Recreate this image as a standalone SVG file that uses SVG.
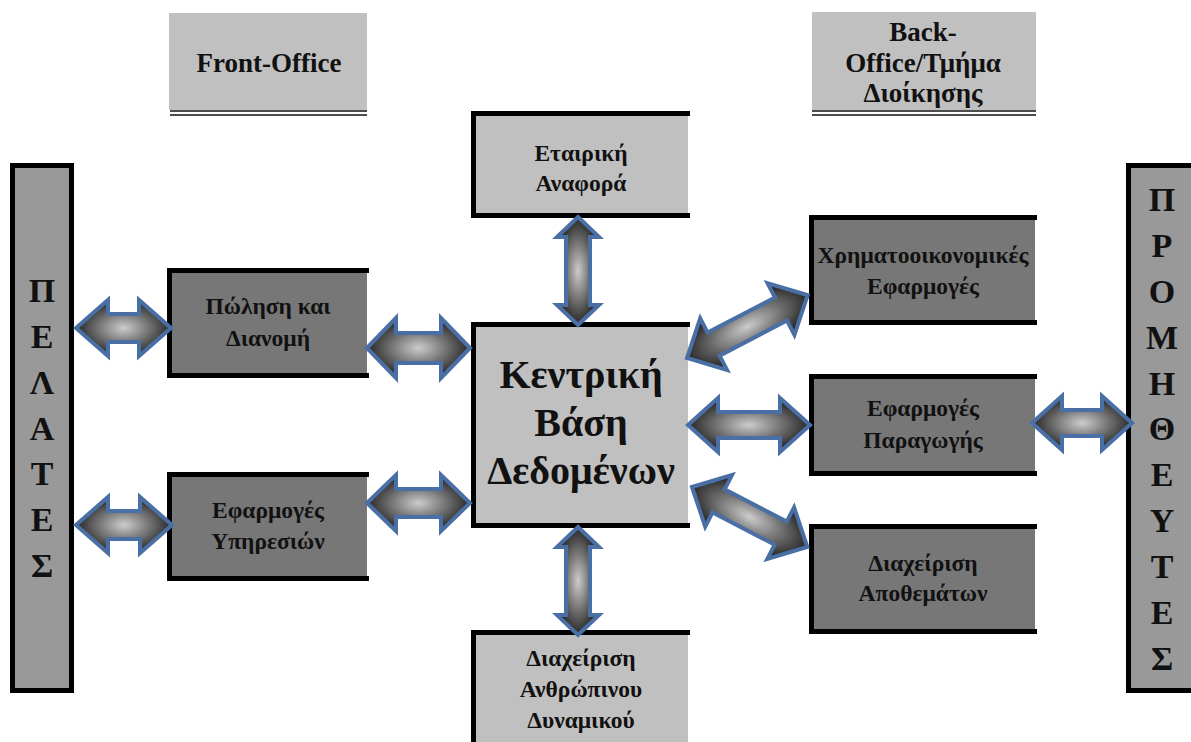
<svg xmlns="http://www.w3.org/2000/svg" width="1191" height="742" viewBox="0 0 1191 742">
<defs>
<radialGradient id="ag" cx="0.5" cy="0.5" r="0.5">
<stop offset="0" stop-color="#cccccc"/>
<stop offset="1" stop-color="#262626"/>
</radialGradient>
<style>
.t{font-family:'Liberation Serif',Tinos,'Times New Roman','DejaVu Serif',serif;font-weight:bold;fill:#111;text-anchor:middle}
.bx{font-size:23.5px}
.hd{font-size:27px}
.col{font-size:34px}
.big{font-size:40px}
.dark{fill:#777777}
.light{fill:#c0c0c0}
.colfill{fill:#999999}
.bd{fill:none;stroke:#000;stroke-width:5}
.dl{stroke:#111;stroke-width:1.5}
.arr{fill:url(#ag);stroke:#4a6fa5;stroke-width:4;stroke-linejoin:miter}
</style>
</defs>
<rect width="1191" height="742" fill="#fff"/>

<g id="front-office">
<rect class="light" x="169" y="13" width="198" height="97"/>
<line class="dl" x1="170" y1="111" x2="367" y2="111"/>
<line class="dl" x1="170" y1="115" x2="367" y2="115"/>
<text class="t hd" x="269" y="72">Front-Office</text>
</g>

<g id="back-office">
<rect class="light" x="812" y="12" width="224" height="98"/>
<line class="dl" x1="812" y1="111" x2="1036" y2="111"/>
<line class="dl" x1="812" y1="115" x2="1036" y2="115"/>
<text class="t hd" x="923" y="41">Back-</text>
<text class="t hd" x="923" y="72">Office/Τμήμα</text>
<text class="t hd" x="923" y="102">Διοίκησης</text>
</g>

<g id="pelates">
<rect class="colfill" x="12.5" y="165.5" width="59" height="525"/>
<rect class="bd" x="12.5" y="165.5" width="59" height="525"/>
<text class="t col" x="42" y="302">Π</text>
<text class="t col" x="42" y="348">Ε</text>
<text class="t col" x="42" y="394">Λ</text>
<text class="t col" x="42" y="440">Α</text>
<text class="t col" x="42" y="485">Τ</text>
<text class="t col" x="42" y="531">Ε</text>
<text class="t col" x="42" y="577">Σ</text>
</g>

<g id="promitheftes">
<rect class="colfill" x="1128.5" y="165.5" width="70" height="525"/>
<rect class="bd" x="1128.5" y="165.5" width="70" height="525"/>
<text class="t col" x="1162" y="211">Π</text>
<text class="t col" x="1162" y="257">Ρ</text>
<text class="t col" x="1162" y="303">Ο</text>
<text class="t col" x="1162" y="349">Μ</text>
<text class="t col" x="1162" y="395">Η</text>
<text class="t col" x="1162" y="440">Θ</text>
<text class="t col" x="1162" y="486">Ε</text>
<text class="t col" x="1162" y="532">Υ</text>
<text class="t col" x="1162" y="578">Τ</text>
<text class="t col" x="1162" y="624">Ε</text>
<text class="t col" x="1162" y="670">Σ</text>
</g>

<g id="polisi">
<rect class="dark" x="169.5" y="270.5" width="197.5" height="105"/>
<path class="bd" d="M369 270.5H169.5V375.5H369"/>
<text class="t bx" x="268" y="314">Πώληση και</text>
<text class="t bx" x="268" y="346">Διανομή</text>
</g>

<g id="ypiresies">
<rect class="dark" x="169.5" y="474.5" width="197.5" height="104"/>
<path class="bd" d="M369 474.5H169.5V578.5H369"/>
<text class="t bx" x="268" y="518">Εφαρμογές</text>
<text class="t bx" x="268" y="549">Υπηρεσιών</text>
</g>

<g id="etairiki">
<rect class="light" x="473.5" y="113.5" width="214.5" height="102"/>
<path class="bd" d="M690 113.5H473.5V215.5H690"/>
<text class="t bx" x="581" y="161">Εταιρική</text>
<text class="t bx" x="581" y="191">Αναφορά</text>
</g>

<g id="kentriki">
<rect class="light" x="473.5" y="324.5" width="214.5" height="201"/>
<path class="bd" d="M690 324.5H473.5V525.5H690"/>
<text class="t big" x="581" y="388">Κεντρική</text>
<text class="t big" x="581" y="436">Βάση</text>
<text class="t big" x="581" y="484">Δεδομένων</text>
</g>

<g id="anthropino">
<rect class="light" x="473.5" y="632.5" width="214.5" height="120"/>
<path class="bd" d="M690 632.5H473.5V750"/>
<text class="t bx" x="581" y="666">Διαχείριση</text>
<text class="t bx" x="581" y="697">Ανθρώπινου</text>
<text class="t bx" x="581" y="728">Δυναμικού</text>
</g>

<g id="xrimato">
<rect class="dark" x="811.5" y="217.5" width="223.5" height="105"/>
<path class="bd" d="M1037 217.5H811.5V322.5H1037"/>
<text class="t bx" x="923" y="263">Χρηματοοικονομικές</text>
<text class="t bx" x="923" y="294">Εφαρμογές</text>
</g>

<g id="paragogi">
<rect class="dark" x="811.5" y="376.5" width="223.5" height="97"/>
<path class="bd" d="M1037 376.5H811.5V473.5H1037"/>
<text class="t bx" x="923" y="416">Εφαρμογές</text>
<text class="t bx" x="923" y="448">Παραγωγής</text>
</g>

<g id="apothemata">
<rect class="dark" x="811.5" y="526.5" width="223.5" height="105"/>
<path class="bd" d="M1037 526.5H811.5V631.5H1037"/>
<text class="t bx" x="923" y="571">Διαχείριση</text>
<text class="t bx" x="923" y="601">Αποθεμάτων</text>
</g>

<g id="connectors">
<polygon class="arr" transform="translate(76,328)" points="0,0 32,-28 32,-14 63,-14 63,-28 95,0 63,28 63,14 32,14 32,28"/>
<polygon class="arr" transform="translate(76,525)" points="0,0 32,-28 32,-14 64,-14 64,-28 96,0 64,28 64,14 32,14 32,28"/>
<polygon class="arr" transform="translate(367,348)" points="0,0 29,-30 29,-15 74,-15 74,-30 103,0 74,30 74,15 29,15 29,30"/>
<polygon class="arr" transform="translate(367,503)" points="0,0 29,-28 29,-14 74,-14 74,-28 103,0 74,28 74,14 29,14 29,28"/>
<polygon class="arr" transform="translate(578,217) rotate(90)" points="0,0 20,-21 20,-12 88,-12 88,-21 108,0 88,21 88,12 20,12 20,21"/>
<polygon class="arr" transform="translate(578,527) rotate(90)" points="0,0 20,-21 20,-12 88,-12 88,-21 108,0 88,21 88,12 20,12 20,21"/>
<polygon class="arr" transform="translate(687,358) rotate(-27.5)" points="0,0 30,-29 30,-13 106,-13 106,-29 136,0 106,29 106,13 30,13 30,29"/>
<polygon class="arr" transform="translate(688,425)" points="0,0 30,-27 30,-13 92,-13 92,-27 122,0 92,27 92,13 30,13 30,27"/>
<polygon class="arr" transform="translate(692,487) rotate(27.5)" points="0,0 30,-29 30,-13 100,-13 100,-29 130,0 100,29 100,13 30,13 30,29"/>
<polygon class="arr" transform="translate(1032,423)" points="0,0 30,-27 30,-13 70,-13 70,-27 100,0 70,27 70,13 30,13 30,27"/>
</g>
</svg>
